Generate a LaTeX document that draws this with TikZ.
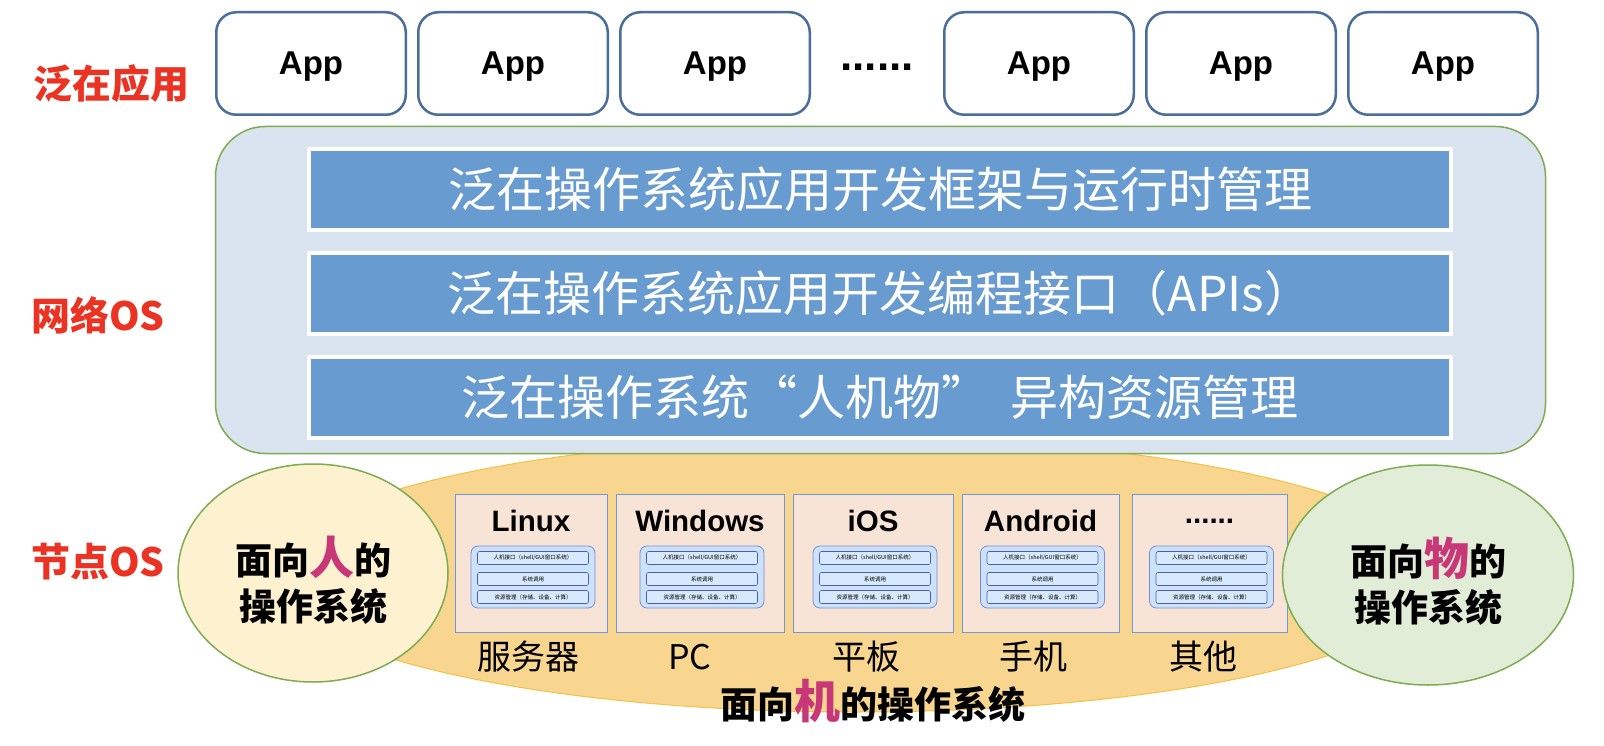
\documentclass[tikz,border=0pt]{standalone}
\usepackage{fontspec}
\setmainfont{Liberation Sans}
\newfontfamily\cjk{Noto Sans CJK SC}
\usetikzlibrary{shapes.geometric}
\newcommand\fsz[2][]{\fontsize{#2}{#2}\selectfont}
\newcommand\sixdots{......}
\definecolor{appb}{RGB}{74,110,153}
\definecolor{bigf}{RGB}{218,227,240}
\definecolor{grn}{RGB}{125,172,82}
\definecolor{barf}{RGB}{104,155,208}
\definecolor{ellf}{RGB}{249,214,143}
\definecolor{ellb}{RGB}{244,192,70}
\definecolor{lcf}{RGB}{253,241,207}
\definecolor{rcf}{RGB}{226,237,215}
\definecolor{osf}{RGB}{248,228,214}
\definecolor{osb}{RGB}{110,155,215}
\definecolor{inf}{RGB}{204,226,250}
\definecolor{inb}{RGB}{120,140,210}
\definecolor{ibf}{RGB}{215,233,252}
\definecolor{ibb}{RGB}{80,90,180}
\definecolor{redc}{RGB}{234,51,35}
\definecolor{mag}{RGB}{200,55,120}
\tikzset{
 appbox/.style={draw=appb, line width=2.5pt, rounded corners=20pt, fill=white, minimum width=189.5pt, minimum height=102.5pt, inner sep=0pt, text depth=0pt, font=\fsz{33pt}\bfseries},
 barbox/.style={draw=white, line width=4pt, fill=barf, minimum width=1142pt, minimum height=81pt, inner sep=0pt, text=white, font=\cjk\fsz{48pt}},
 sidelbl/.style={text=redc, font=\cjk\bfseries\fsz{39pt}, inner sep=0pt},
 osbox/.style={draw=osb, line width=1pt, fill=osf, minimum height=138pt, inner sep=0pt},
 ostitle/.style={font=\bfseries\fsz{29.5pt}, inner sep=0pt},
 inbox/.style={draw=inb, line width=0.8pt, fill=inf, rounded corners=7pt, minimum width=124pt, minimum height=62pt, inner sep=0pt},
 inbar/.style={draw=ibb, line width=0.6pt, fill=ibf, rounded corners=2pt, minimum width=111pt, minimum height=13pt, inner sep=0pt, font=\cjk\fsz{5.5pt}},
 devlbl/.style={font=\cjk\fsz{34pt}, inner sep=0pt},
 oval/.style={ellipse, draw=grn, line width=1.5pt, inner sep=0pt},
 ovaltext/.style={align=center, inner sep=0pt, font=\cjk\bfseries\fontsize{37pt}{46pt}\selectfont},
}
\begin{document}
\begin{tikzpicture}[x=1pt,y=-1pt]
\useasboundingbox (0,0) rectangle (1604,746);
\fill[white] (0,0) rectangle (1604,746);

% machine-oriented ellipse (behind)
\node[ellipse, draw=ellb, fill=ellf, line width=1pt, minimum width=1170pt, minimum height=274pt, inner sep=0pt] (mach) at (855,575) {};

% side labels
\node[sidelbl] (lapp) at (111,84) {泛在应用};
\node[sidelbl] (lnet) at (98,315) {网络OS};
\node[sidelbl] (lnode) at (98,562) {节点OS};

% apps
\node[appbox] (app1) at (311,63.5) {App};
\node[appbox] (app2) at (513,63.5) {App};
\node[appbox] (app3) at (715,63.5) {App};
\node[font=\fsz{44pt}\bfseries, inner sep=0pt] (appdots) at (877,67) {\sixdots};
\node[appbox] (app4) at (1039,63.5) {App};
\node[appbox] (app5) at (1241,63.5) {App};
\node[appbox] (app6) at (1443,63.5) {App};

% network OS box
\node[draw=grn, fill=bigf, line width=1.5pt, rounded corners=50pt, minimum width=1330pt, minimum height=327pt, inner sep=0pt] (net) at (880.5,290) {};
\node[barbox] (bar1) at (880,189.5) {泛在操作系统应用开发框架与运行时管理};
\node[barbox] (bar2) at (880,293.5) {泛在操作系统应用开发编程接口（APIs）};
\node[barbox] (bar3) at (880,397.5) {泛在操作系统“人机物”\hspace{22pt}异构资源管理};

% node OS boxes
\foreach \n/\cx/\w/\t/\lx/\d in {lin/531/152/Linux/528/服务器, win/700/168/Windows/690/PC, ios/873/160/iOS/866/平板, and/1040.5/157/Android/1033/手机, oth/1209.5/155/\sixdots/1203/其他}{
 \node[osbox, minimum width=\w pt] (os\n) at (\cx,563) {};
 \node[ostitle] (t\n) at (\cx,521) {\t};
 \node[inbox] (ib\n) at (\cx+2,577) {};
 \node[inbar] (bA\n) at (\cx+2,558) {人机接口（shell/GUI窗口系统）};
 \node[inbar] (bB\n) at (\cx+2,579) {系统调用};
 \node[inbar] (bC\n) at (\cx+2,597) {资源管理（存储、设备、计算）};
 \node[devlbl] (d\n) at (\lx,657) {\d};
}

% human / thing ovals
\node[oval, fill=lcf, minimum width=270pt, minimum height=218pt] (human) at (313,573) {};
\node[ovaltext] (humantxt) at (313,580) {面向{\color{mag}\fsz{45pt}人}的\\操作系统};
\node[oval, fill=rcf, minimum width=291pt, minimum height=220pt] (thing) at (1428,575) {};
\node[ovaltext] (thingtxt) at (1428,581) {面向{\color{mag}\fsz{45pt}物}的\\操作系统};

% machine label
\node[inner sep=0pt, font=\cjk\bfseries\fsz{37pt}] (machtxt) at (873,701) {面向{\color{mag}\fsz{46pt}机}的操作系统};
\end{tikzpicture}
\end{document}
